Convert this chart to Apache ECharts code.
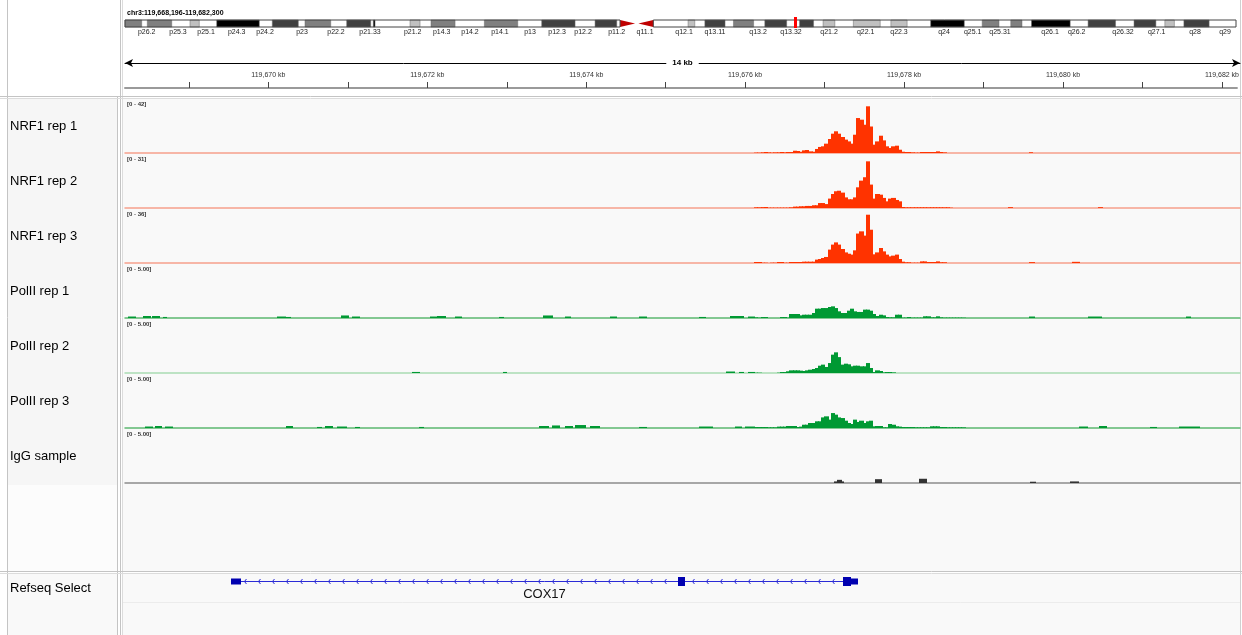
<!DOCTYPE html>
<html><head><meta charset="utf-8">
<script src="https://cdn.jsdelivr.net/npm/echarts@6/dist/echarts.min.js"></script>
<style>html,body{margin:0;padding:0;background:#fff}#c{width:1242px;height:635px}</style>
</head><body><div id="c"></div>
<script>
// ---------- view ----------
const locusText = 'chr3:119,668,196-119,682,300';
const viewStart = 119668196;
const viewEnd = 119682189;
const spanLabel = '14 kb';
const tickValues = [119669000,119670000,119671000,119672000,119673000,119674000,119675000,119676000,119677000,119678000,119679000,119680000,119681000,119682000];
const tickLabelValues = [119670000,119672000,119674000,119676000,119678000,119680000,119682000];

// ---------- ideogram (chr3, Mb) ----------
const chromLength = 198.3;
const bandStart = [0,3.98,11.60,16.37,26.29,32.13,39.57,44.32,50.87,54.62,64.14,74.38,83.90,88.36,91.63,100.5,103.5,108.6,114.2,120.4,124.6,130.0,136.7,143.8,153.0,158.1,161.8,171.9,180.1,185.6,189.0];
const bandEnd   = [2.98,8.34,13.26,23.97,30.93,36.72,43.86,44.63,52.66,58.91,70.10,80.33,87.77,91.04,94.30,101.7,107.1,112.2,118.1,122.9,126.7,134.8,139.6,149.8,156.0,160.1,168.7,176.8,184.0,187.3,193.5];
const bandStain = ['gpos50','gpos50','gpos25','gpos100','gpos75','gpos50','gpos75','gpos100','gpos25','gpos50','gpos50','gpos75','gpos75','acenP','acenQ','gpos25','gpos75','gpos50','gpos75','gpos75','gpos25','gpos25','gpos25','gpos100','gpos50','gpos50','gpos100','gpos75','gpos75','gpos25','gpos75'];
const bandLabelNames = ['p26.2','p25.3','p25.1','p24.3','p24.2','p23','p22.2','p21.33','p21.2','p14.3','p14.2','p14.1','p13','p12.3','p12.2','p11.2','q11.1','q12.1','q13.11','q13.2','q13.32','q21.2','q22.1','q22.3','q24','q25.1','q25.31','q26.1','q26.2','q26.32','q27.1','q28','q29'];
const bandLabelPos = [3.87,9.46,14.46,19.94,24.99,31.59,37.66,43.73,51.35,56.53,61.58,66.93,72.29,77.11,81.75,87.76,92.82,99.78,105.31,112.99,118.88,125.66,132.21,138.15,146.18,151.31,156.18,165.11,169.87,178.13,184.15,190.98,196.34];

// ---------- tracks ----------
const trackNames = ['NRF1 rep 1','NRF1 rep 2','NRF1 rep 3','PolII rep 1','PolII rep 2','PolII rep 3','IgG sample'];
const trackMax = [42,31,36,5,5,5,5];
const rangeLabels = ['[0 - 42]','[0 - 31]','[0 - 36]','[0 - 5.00]','[0 - 5.00]','[0 - 5.00]','[0 - 5.00]'];

// dense coverage in the peak region: bins of binSize bp starting at peakStart
const peakStart = 119676100;
const binSize = 40;
const nrf1Rep1 = [0.3,0.3,0.5,0.8,0.5,0.3,0.5,0.5,0.8,0.5,0.8,0.8,1.8,1.6,1.0,2.1,2.4,1.3,1.0,3.2,4.8,5.3,7.4,11.1,15.3,17.2,15.3,12.7,10.6,9.2,7.4,14.5,27.7,26.4,22.4,37,21,6.6,9.2,13.7,10,5.3,4.0,5.3,5.8,2.6,1.0,0.8,0.8,0.5,0.3,0.3,0.8,0.8,0.8,0.8,0.8,1.3,0.8,0.5,0,0,0,0,0,0];
const nrf1Rep2 = [0.4,0.4,0.5,0.6,0.2,0.2,0.2,0.2,0.2,0.2,0.2,0.4,0.8,0.8,1.0,1.0,1.2,1.2,1.6,1.6,2.9,2.9,2.3,5.5,8.2,9.8,10.1,9.0,6.2,5.1,5.1,6.2,12.1,16,18,27.3,13.7,5.5,8.2,7.8,5.9,3.9,5.5,5.9,4.7,3.9,0.6,0.4,0.4,0.4,0.4,0.4,0.4,0.4,0.4,0.4,0.4,0.4,0.4,0.4,0.4,0.2,0,0,0,0];
const nrf1Rep3 = [0.7,0.7,0.2,0.2,0,0.2,0.2,0.7,0.7,0.2,0.2,0.7,0.7,0.7,0.7,0.9,0.9,0.9,0.9,2.3,2.7,3.4,4.1,9.1,12.5,14,12.5,9.5,7.2,6.3,5.7,8.6,20,21.5,18.6,32.8,22.6,5.9,7.2,10.2,7.9,5.7,4.5,5,5.7,2.7,0.9,0.5,0.5,0.2,0.2,0.2,1.1,1.1,0.7,0.7,0.7,1.1,0.5,0.5,0,0,0,0,0,0];
const polRep1 = [0.06,0.03,0.09,0.09,0,0,0,0,0.09,0.09,0.03,0.38,0.38,0.38,0.25,0.31,0.31,0.31,0.47,0.88,0.88,0.94,0.94,1.04,1.1,0.94,0.63,0.47,0.47,0.69,0.88,0.63,0.57,0.57,0.79,0.79,0.69,0.38,0.19,0.31,0.25,0.09,0.06,0.06,0.31,0.31,0.03,0.03,0.09,0.03,0.03,0.03,0.03,0.16,0.16,0.06,0.06,0.16,0.06,0.03,0.03,0.03,0.03,0.03,0.03,0.03];
const polRep2 = [0.03,0.03,0,0,0,0,0,0.03,0.09,0.09,0.16,0.25,0.25,0.25,0.22,0.19,0.25,0.31,0.38,0.47,0.69,0.79,0.57,0.94,1.73,1.95,1.5,0.79,0.88,0.82,0.63,0.69,0.69,0.63,0.63,0.94,0.47,0.09,0.25,0.19,0.06,0.09,0.09,0.06,0,0,0,0,0,0,0,0,0,0,0,0,0,0,0,0,0,0,0,0,0,0];
const polRep3 = [0.09,0.09,0.09,0.09,0.06,0.06,0.06,0.13,0.13,0.13,0.19,0.19,0.19,0.09,0.13,0.31,0.31,0.47,0.47,0.63,0.63,1.0,1.1,0.79,1.41,1.26,1.0,0.94,0.69,0.47,0.38,0.79,0.57,0.69,0.47,0.63,0.69,0.16,0.19,0.19,0.06,0.06,0.38,0.31,0.16,0.13,0.09,0.09,0.09,0.09,0.06,0.06,0.06,0.06,0.06,0.16,0.16,0.16,0.09,0.09,0.06,0.06,0.06,0.06,0.06,0.06];
const igg = [];

// sparse coverage elsewhere: [start, end, value]
const nrf1Rep1Sparse = [[119679541,119679591,0.6]];
const nrf1Rep2Sparse = [[119679278,119679328,0.5],[119680407,119680469,0.5]];
const nrf1Rep3Sparse = [[119679541,119679604,0.6],[119680093,119680169,0.8]];
const polRep1Sparse = [[119668234,119668322,0.14],[119668422,119668510,0.19],[119668547,119668635,0.19],[119668673,119668723,0.1],[119670116,119670204,0.14],[119670229,119670267,0.1],[119670919,119670995,0.24],[119671057,119671145,0.14],[119672024,119672112,0.14],[119672124,119672212,0.19],[119672338,119672425,0.14],[119672902,119672940,0.1],[119673442,119673555,0.24],[119673718,119673781,0.14],[119674283,119674358,0.14],[119674659,119674735,0.14],[119675412,119675475,0.1],[119675801,119675952,0.19],[119676015,119676090,0.14],[119679541,119679604,0.14],[119680282,119680457,0.14],[119681512,119681562,0.14]];
const polRep2Sparse = [[119671810,119671898,0.1],[119672940,119672978,0.1],[119675739,119675839,0.14],[119675902,119675964,0.1],[119676015,119676090,0.1]];
const polRep3Sparse = [[119668447,119668547,0.14],[119668573,119668660,0.19],[119668698,119668786,0.14],[119670229,119670304,0.19],[119670606,119670668,0.1],[119670706,119670806,0.19],[119670869,119670982,0.14],[119671083,119671133,0.1],[119671898,119671936,0.1],[119673404,119673505,0.19],[119673555,119673655,0.24],[119673718,119673806,0.19],[119673844,119673969,0.28],[119674032,119674157,0.19],[119674659,119674735,0.1],[119675412,119675563,0.14],[119675852,119675939,0.14],[119675977,119676090,0.14],[119680169,119680269,0.14],[119680420,119680508,0.19],[119681072,119681135,0.1],[119681436,119681675,0.14]];
const iggSparse = [[119677094,119677132,0.15],[119677132,119677182,0.3],[119677182,119677207,0.15],[119677609,119677696,0.36],[119678173,119678249,0.4],[119679554,119679617,0.12],[119680068,119680156,0.15]];

// ---------- gene (RefSeq Select) ----------
const geneName = 'COX17';
const geneStart = 119669526, geneEnd = 119677395;
const exonStart = [119669526,119675136,119677207,119677307];
const exonEnd   = [119669652,119675224,119677307,119677395];
const exonType  = ['utr','cds','cds','utr'];

// ---------- styling ----------
const trackColors = ['#ff3300','#ff3300','#ff3300','#009933','#009933','#009933','#333333'];
const baseColors  = ['#f6a08c','#f6a08c','#f6a08c','#5cb870','#a9dcb3','#5cb870','#8c8c8c'];
const stainColor = {gpos100:'#000000',gpos75:'#404040',gpos50:'#808080',gpos25:'#c0c0c0'};
const FONT = 'Liberation Sans, Arial, sans-serif';
const GL = 125, GR = 2;
const trackTop = i => 100 + 55*i, trackH = 53;

const denseSets = [nrf1Rep1,nrf1Rep2,nrf1Rep3,polRep1,polRep2,polRep3,igg];
const sparseSets = [nrf1Rep1Sparse,nrf1Rep2Sparse,nrf1Rep3Sparse,polRep1Sparse,polRep2Sparse,polRep3Sparse,iggSparse];

const grids = [
  {left:GL, top:20, width:1111, height:7},
  {left:GL, right:GR, top:62, height:1},
  {left:GL, right:GR, top:88, height:1}
];
const xAxes = [
  {gridIndex:0, type:'value', min:0, max:chromLength, show:false},
  {gridIndex:1, type:'value', min:viewStart, max:viewEnd, axisLine:{show:true, onZero:false, symbol:['arrow','arrow'], symbolSize:[6,8], lineStyle:{color:'#000',width:1}}, axisTick:{show:false}, axisLabel:{show:false}, splitLine:{show:false}},
  {gridIndex:2, type:'value', position:'top', min:viewStart, max:viewEnd,
    axisLine:{show:true, onZero:false, lineStyle:{color:'#9a9a9a',width:2}},
    axisTick:{show:true, length:6, customValues:tickValues, lineStyle:{color:'#444',width:1}},
    axisLabel:{show:true, customValues:tickLabelValues, margin:9, fontSize:7, color:'#333', fontFamily:FONT,
      formatter:v => Math.round(v/1000).toLocaleString('en-US') + ' kb'},
    splitLine:{show:false}}
];
const yAxes = [
  {gridIndex:0, type:'value', min:0, max:1, show:false},
  {gridIndex:1, type:'value', min:0, max:1, show:false},
  {gridIndex:2, type:'value', min:0, max:1, show:false}
];
const series = [];

// ideogram
series.push({
  type:'custom', xAxisIndex:0, yAxisIndex:0, silent:true, z:3,
  data: bandStart.map((s,i)=>[s, bandEnd[i]]),
  renderItem(params, api){
    const i = params.dataIndex, st = bandStain[i];
    const a = api.coord([api.value(0),1]), b = api.coord([api.value(1),0]);
    if (st === 'acenP') {
      return {type:'polygon', shape:{points:[[a[0],a[1]],[b[0],(a[1]+b[1])/2],[a[0],b[1]]]}, style:{fill:'#c00000'}};
    }
    if (st === 'acenQ') {
      return {type:'polygon', shape:{points:[[a[0],(a[1]+b[1])/2],[b[0],a[1]],[b[0],b[1]]]}, style:{fill:'#c00000'}};
    }
    return {type:'rect', shape:{x:a[0], y:a[1], width:b[0]-a[0], height:b[1]-a[1]}, style:{fill:stainColor[st], stroke:'#6a6a6a', lineWidth:0.5}};
  }
});
// ideogram outline (p arm and q arm) + view marker + labels
series.push({
  type:'custom', xAxisIndex:0, yAxisIndex:0, silent:true, z:4,
  data:[[0]],
  renderItem(params, api){
    const cenS = bandStart[bandStain.indexOf('acenP')], cenE = bandEnd[bandStain.indexOf('acenQ')];
    const p0 = api.coord([0,1]), p1 = api.coord([cenS,0]);
    const q0 = api.coord([cenE,1]), q1 = api.coord([chromLength,0]);
    const m0 = api.coord([viewStart/1e6,1]), m1 = api.coord([viewEnd/1e6,0]);
    const mc = (m0[0]+m1[0])/2;
    const children = [
      {type:'rect', shape:{x:p0[0],y:p0[1],width:p1[0]-p0[0],height:p1[1]-p0[1]}, style:{fill:'none',stroke:'#444',lineWidth:1}},
      {type:'rect', shape:{x:q0[0],y:q0[1],width:q1[0]-q0[0],height:q1[1]-q0[1]}, style:{fill:'none',stroke:'#444',lineWidth:1}},
      {type:'rect', shape:{x:mc-1.5,y:p0[1]-3,width:3,height:p1[1]-p0[1]+4}, style:{fill:'#ff0000'}}
    ];
    bandLabelNames.forEach((n,i)=>{
      const c = api.coord([bandLabelPos[i],0]);
      children.push({type:'text', style:{x:c[0], y:c[1]+2, text:n, align:'center', verticalAlign:'top', fontSize:7, fontFamily:FONT, fill:'#222'}});
    });
    return {type:'group', children};
  }
});

// tracks
function covRender(params, api){
  const s = api.value(0), e = api.value(1), v = api.value(2);
  const p0 = api.coord([s, v]), p1 = api.coord([e, 0]);
  const x0 = Math.floor(p0[0]), x1 = Math.ceil(p1[0]);
  return {type:'rect', shape:{x:x0, y:p0[1], width:Math.max(1,x1-x0), height:p1[1]-p0[1]}, style:{fill:api.visual('color')}};
}
trackNames.forEach((name, t)=>{
  const gi = grids.length;
  grids.push({left:GL, right:GR, top:trackTop(t), height:trackH});
  xAxes.push({gridIndex:gi, type:'value', min:viewStart, max:viewEnd, axisLine:{show:true, onZero:false, lineStyle:{color:baseColors[t], width:1.5}}, axisTick:{show:false}, axisLabel:{show:false}, splitLine:{show:false}});
  yAxes.push({gridIndex:gi, type:'value', min:0, max:trackMax[t], show:false});
  const data = [];
  denseSets[t].forEach((v,i)=>{ if (v>0) data.push([peakStart+i*binSize, peakStart+(i+1)*binSize, v]); });
  sparseSets[t].forEach(d=>data.push(d));
  series.push({type:'custom', name, xAxisIndex:gi, yAxisIndex:gi, silent:true, clip:true, z:5,
    itemStyle:{color:trackColors[t]}, data, renderItem:covRender});
});

// gene track
const geneGrid = grids.length;
grids.push({left:GL, right:GR, top:576, height:10});
xAxes.push({gridIndex:geneGrid, type:'value', min:viewStart, max:viewEnd, show:false});
yAxes.push({gridIndex:geneGrid, type:'value', min:-1, max:1, show:false});
series.push({
  type:'custom', xAxisIndex:geneGrid, yAxisIndex:geneGrid, silent:true, z:5,
  data:[[geneStart, geneEnd]],
  renderItem(params, api){
    const a = api.coord([api.value(0),0]), b = api.coord([api.value(1),0]);
    const yc = Math.round(a[1]) + 0.5;
    const ch = [{type:'line', shape:{x1:a[0],y1:yc,x2:b[0],y2:yc}, style:{stroke:'#2b2bd6',lineWidth:1}}];
    for (let x = a[0]+14; x < b[0]-6; x += 14) {
      ch.push({type:'polyline', shape:{points:[[x+1.5,yc-2.5],[x-0.5,yc],[x+1.5,yc+2.5]]}, style:{stroke:'#2b2bd6',lineWidth:1,fill:'none'}});
    }
    exonStart.forEach((s,i)=>{
      const p = api.coord([s,0]), q = api.coord([exonEnd[i],0]);
      const h = exonType[i]==='cds' ? 9 : 6;
      ch.push({type:'rect', shape:{x:p[0], y:yc-h/2, width:Math.max(2,q[0]-p[0]), height:h}, style:{fill:'#0000b0'}});
    });
    ch.push({type:'text', style:{x:(a[0]+b[0])/2, y:yc+13, text:geneName, align:'center', verticalAlign:'middle', fontSize:13, fontFamily:FONT, fill:'#111'}});
    return {type:'group', children:ch};
  }
});

// ---------- static frame, names, labels ----------
const g = [];
const L = (x1,y1,x2,y2,c,w) => g.push({type:'line', silent:true, z:-1, shape:{x1,y1,x2,y2}, style:{stroke:c, lineWidth:w||1}});
g.push({type:'rect', silent:true, z:-2, shape:{x:123,y:99,width:1117,height:472}, style:{fill:'#f9f9f9'}});
g.push({type:'rect', silent:true, z:-2, shape:{x:123,y:574,width:1117,height:61}, style:{fill:'#f9f9f9'}});
g.push({type:'rect', silent:true, z:-2, shape:{x:8,y:99,width:109,height:386}, style:{fill:'#f6f6f6'}});
g.push({type:'rect', silent:true, z:-2, shape:{x:8,y:485,width:109,height:86}, style:{fill:'#fcfcfc'}});
g.push({type:'rect', silent:true, z:-2, shape:{x:8,y:574,width:109,height:61}, style:{fill:'#f9f9f9'}});
L(7.5,0,7.5,635,'#c4c4c4');
L(117.5,97,117.5,635,'#c4c4c4');
L(120.5,0,120.5,635,'#c4c4c4');
L(122.5,0,122.5,635,'#dcdcdc');
L(1240.5,0,1240.5,635,'#d0d0d0');
L(0,96.5,1242,96.5,'#c4c4c4');
L(0,98.5,1242,98.5,'#dcdcdc');
L(0,571.5,1242,571.5,'#c4c4c4');
L(0,573.5,1242,573.5,'#dcdcdc');
L(123,602.5,1240,602.5,'#ececec');
trackNames.forEach((n,t)=>{
  g.push({type:'text', z:10, style:{x:10, y:trackTop(t)+26, text:n, fontSize:13, fontFamily:FONT, fill:'#000', verticalAlign:'middle'}});
  g.push({type:'text', z:10, style:{x:127, y:trackTop(t)+1, text:rangeLabels[t], fontSize:6, fontWeight:'bold', fontFamily:FONT, fill:'#333', verticalAlign:'top'}});
});
g.push({type:'text', z:10, style:{x:10, y:588, text:'Refseq Select', fontSize:13, fontFamily:FONT, fill:'#000', verticalAlign:'middle'}});
g.push({type:'text', z:10, style:{x:127, y:13, text:locusText, fontSize:7, fontWeight:'bold', fontFamily:FONT, fill:'#000', verticalAlign:'middle'}});
g.push({type:'text', z:10, style:{x:GL+(1240-GL)/2, y:63, text:spanLabel, fontSize:8, fontWeight:'bold', fontFamily:FONT, fill:'#000', align:'center', verticalAlign:'middle', backgroundColor:'#ffffff', padding:[1,6]}});

const chart = echarts.init(document.getElementById('c'), null, {width:1242, height:635});
chart.setOption({
  animation:false,
  backgroundColor:'#ffffff',
  grid:grids, xAxis:xAxes, yAxis:yAxes, series, graphic:g
});
</script>
</body></html>
